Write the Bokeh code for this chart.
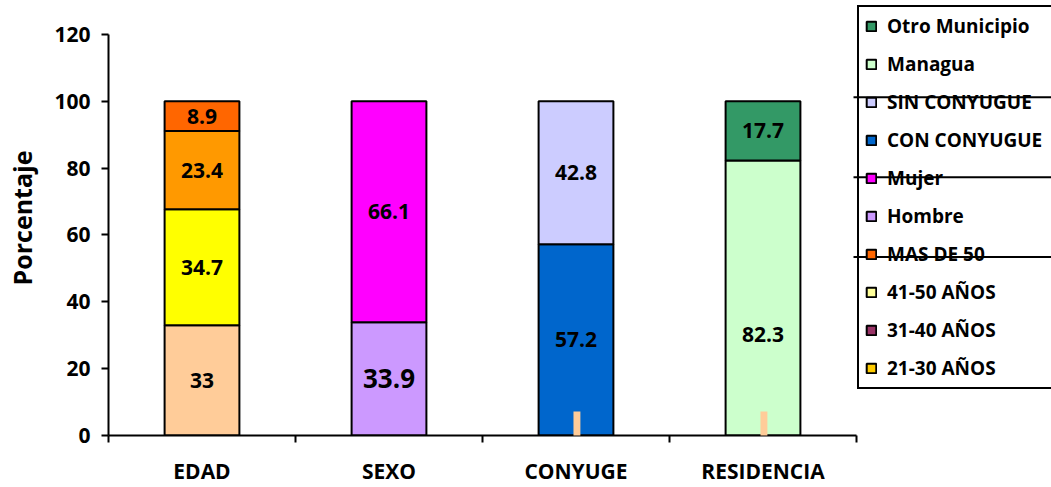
from bokeh.plotting import figure
from bokeh.models import (Range1d, FixedTicker, LinearAxis, Legend, LegendItem,
                          ColumnDataSource, BoxAnnotation)
from bokeh.core.properties import value
from bokeh.embed import file_html
from bokeh.resources import INLINE

# ---------------- data ----------------
categories = ["EDAD", "SEXO", "CONYUGE", "RESIDENCIA"]
edad_values = [33, 34.7, 23.4, 8.9]
sexo_values = [33.9, 66.1]
conyuge_values = [57.2, 42.8]
residencia_values = [82.3, 17.7]
stack_values = [edad_values, sexo_values, conyuge_values, residencia_values]

legend_labels = ["Otro Municipio", "Managua", "SIN CONYUGUE", "CON CONYUGUE",
                 "Mujer", "Hombre", "MAS DE 50", "41-50 AÑOS", "31-40 AÑOS",
                 "21-30 AÑOS"]
y_ticks = [0, 20, 40, 60, 80, 100, 120]

# small peach marks seen at the base of CONYUGE and RESIDENCIA
mark_cats = ["CONYUGE", "RESIDENCIA"]
mark_top = [7.2, 7.2]
mark_bottom = [-7.2, -7.2]

# stray horizontal strokes crossing the legend
stroke_y = [101.2, 77.3, 53.4]

# ---------------- styles ----------------
segment_colors = [
    ["#FFCC99", "#FFFF00", "#FF9900", "#FF6600"],
    ["#CC99FF", "#FF00FF"],
    ["#0066CC", "#CCCCFF"],
    ["#CCFFCC", "#339966"],
]
legend_colors = ["#339966", "#CCFFCC", "#CCCCFF", "#0066CC", "#FF00FF",
                 "#CC99FF", "#FF6600", "#FFFF99", "#993366", "#FFCC00"]
label_sizes = [["21px", "21px", "21px", "21px"], ["26px", "21px"],
               ["21px", "21px"], ["21px", "21px"]]
label_shift = [[0, 0, 0, 0], [0, 0], [0, 0], [-11, 0]]  # data units
FONT = "Open Sans"
BAR_W = 0.40
NAN = float("nan")
X_END = 943 / 187

# ---------------- build sources ----------------
xs, bottoms, tops, colors, texts, ty, tsize = [], [], [], [], [], [], []
for i, vals in enumerate(stack_values):
    base = 0.0
    for j, v in enumerate(vals):
        xs.append(i + 0.5)
        bottoms.append(base)
        tops.append(base + v)
        colors.append(segment_colors[i][j])
        texts.append(f"{v:g}")
        ty.append(base + v / 2 + label_shift[i][j])
        tsize.append(label_sizes[i][j])
        base += v

src = ColumnDataSource(dict(x=xs, bottom=bottoms, top=tops, color=colors,
                            text=texts, ty=ty, size=tsize))

p = figure(width=1051, height=487, output_backend="svg", toolbar_location=None,
           x_range=Range1d(0, X_END), y_range=Range1d(0, 130.15),
           x_axis_location=None, y_axis_location=None,
           min_border_left=108, min_border_right=0, min_border_top=0,
           min_border_bottom=51)
p.outline_line_color = None
p.xgrid.visible = False
p.ygrid.visible = False
p.background_fill_color = "white"
p.border_fill_color = "white"

p.vbar(x="x", bottom="bottom", top="top", width=BAR_W, fill_color="color",
       line_color="black", line_width=2, source=src)
p.text(x="x", y="ty", text="text", source=src, text_align="center",
       text_baseline="middle", text_font=value(FONT), text_font_style="bold",
       text_font_size="size", text_color="black")

for c, b, t in zip(mark_cats, mark_bottom, mark_top):
    cx = categories.index(c) + 0.505
    p.add_layout(BoxAnnotation(left=cx - 0.0185, right=cx + 0.0185, bottom=b, top=t,
                               fill_color="#FFCC99", fill_alpha=1,
                               line_color=None))

# ---------------- axes ----------------
yaxis = LinearAxis(ticker=FixedTicker(ticks=y_ticks), bounds=(0, 120),
                   axis_label="Porcentaje")
yaxis.axis_line_width = 2
yaxis.major_tick_line_width = 2
yaxis.major_tick_out = 7
yaxis.major_tick_in = 0
yaxis.minor_tick_line_color = None
yaxis.major_label_text_font = FONT
yaxis.major_label_text_font_style = "bold"
yaxis.major_label_text_font_size = "21px"
yaxis.major_label_text_color = "black"
yaxis.major_label_standoff = 11
yaxis.axis_label_text_font = FONT
yaxis.axis_label_text_font_style = "bold"
yaxis.axis_label_text_font_size = "25px"
yaxis.axis_label_text_color = "black"
yaxis.axis_label_standoff = 12
p.add_layout(yaxis, "left")

cat_pos = [i + 0.5 for i in range(len(categories))]
xaxis = LinearAxis(ticker=FixedTicker(ticks=cat_pos,
                                      minor_ticks=list(range(len(categories) + 1))),
                   bounds=(0, len(categories)))
xaxis.major_label_overrides = {pos: c for pos, c in zip(cat_pos, categories)}
xaxis.axis_line_width = 2
xaxis.major_tick_line_color = None
xaxis.major_tick_out = 0
xaxis.major_tick_in = 0
xaxis.minor_tick_line_width = 2
xaxis.minor_tick_out = 7
xaxis.minor_tick_in = 0
xaxis.major_label_text_font = FONT
xaxis.major_label_text_font_style = "bold"
xaxis.major_label_text_font_size = "21px"
xaxis.major_label_text_color = "black"
xaxis.major_label_standoff = 14
p.add_layout(xaxis, "below")

p.segment(x0=[3.984] * len(stroke_y), x1=[X_END] * len(stroke_y),
          y0=stroke_y, y1=stroke_y, line_color="black", line_width=2)

# ---------------- legend ----------------
items = []
for lab, col in zip(legend_labels, legend_colors):
    r = p.vbar(x=[NAN], top=[NAN], width=BAR_W, fill_color=col,
               line_color="black", line_width=2)
    items.append(LegendItem(label=lab, renderers=[r]))
legend = Legend(items=items, location=(749, 46), margin=0, padding=6,
                spacing=12, label_height=25, glyph_height=12, glyph_width=12,
                label_standoff=10, label_width=175,
                border_line_color="black", border_line_width=2,
                border_line_alpha=1, background_fill_alpha=0,
                label_text_font=FONT, label_text_font_style="bold",
                label_text_font_size="19px", label_text_color="black")
p.add_layout(legend)

open("out.html", "w").write(file_html(p, INLINE))
